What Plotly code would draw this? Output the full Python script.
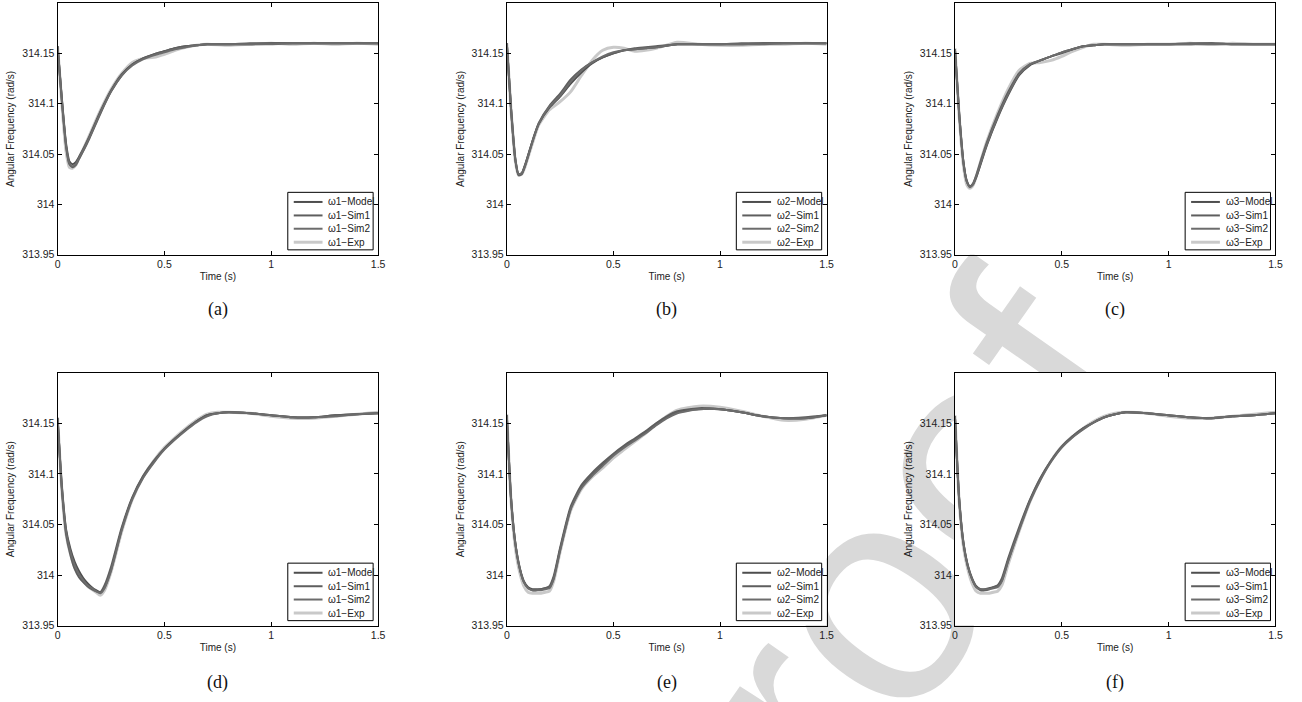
import plotly.graph_objects as go

W, H = 1302, 702

# ---- data -------------------------------------------------------------
time_top = [0, 0.02, 0.04, 0.055, 0.07, 0.085, 0.1, 0.125, 0.15, 0.2, 0.25, 0.3, 0.35, 0.4,
            0.45, 0.5, 0.55, 0.6, 0.65, 0.7, 0.8, 0.9, 1.0, 1.1, 1.2, 1.3, 1.4, 1.5]
time_bottom = [0, 0.02, 0.04, 0.06, 0.08, 0.1, 0.12, 0.14, 0.16, 0.18, 0.2, 0.22, 0.25, 0.3,
               0.35, 0.4, 0.45, 0.5, 0.55, 0.6, 0.65, 0.7, 0.75, 0.8, 0.9, 1.0, 1.1, 1.2,
               1.3, 1.4, 1.5]

series_names = ["Model", "Sim1", "Sim2", "Exp"]
panel_labels = ["(a)", "(b)", "(c)", "(d)", "(e)", "(f)"]
machine_ids = ["1", "2", "3", "1", "2", "3"]

y_tick_vals = [313.95, 314.0, 314.05, 314.1, 314.15]
y_tick_text = ["313.95", "314", "314.05", "314.1", "314.15"]
x_tick_vals = [0, 0.5, 1, 1.5]
x_tick_text = ["0", "0.5", "1", "1.5"]

# (a) omega1, first case
a_model = [314.157, 314.105, 314.060, 314.043, 314.040, 314.042, 314.047, 314.057, 314.068, 314.092,
           314.113, 314.129, 314.139, 314.145, 314.149, 314.152, 314.155, 314.157, 314.158, 314.159,
           314.159, 314.159, 314.160, 314.160, 314.160, 314.160, 314.160, 314.160]
a_sim1 = [314.157, 314.103, 314.057, 314.040, 314.037, 314.039, 314.045, 314.055, 314.066, 314.090,
          314.112, 314.128, 314.139, 314.145, 314.149, 314.152, 314.155, 314.157, 314.158, 314.159,
          314.159, 314.160, 314.160, 314.160, 314.160, 314.160, 314.160, 314.160]
a_sim2 = [314.157, 314.104, 314.058, 314.041, 314.038, 314.040, 314.046, 314.056, 314.067, 314.091,
          314.112, 314.128, 314.138, 314.144, 314.148, 314.151, 314.154, 314.156, 314.158, 314.159,
          314.159, 314.159, 314.159, 314.160, 314.160, 314.160, 314.160, 314.160]
a_exp = [314.157, 314.100, 314.052, 314.037, 314.036, 314.039, 314.046, 314.057, 314.069, 314.093,
         314.114, 314.130, 314.141, 314.145, 314.146, 314.149, 314.153, 314.156, 314.158, 314.159,
         314.158, 314.159, 314.160, 314.159, 314.160, 314.159, 314.160, 314.159]

# (b) omega2, first case
b_model = [314.160, 314.095, 314.045, 314.030, 314.031, 314.039, 314.049, 314.066, 314.080, 314.096,
           314.107, 314.120, 314.131, 314.140, 314.146, 314.150, 314.153, 314.154, 314.155, 314.156,
           314.159, 314.159, 314.159, 314.159, 314.160, 314.160, 314.160, 314.160]
b_sim1 = [314.160, 314.094, 314.044, 314.029, 314.030, 314.038, 314.048, 314.066, 314.081, 314.098,
          314.110, 314.124, 314.134, 314.141, 314.146, 314.150, 314.153, 314.155, 314.156, 314.157,
          314.159, 314.159, 314.159, 314.160, 314.160, 314.160, 314.160, 314.160]
b_sim2 = [314.160, 314.095, 314.045, 314.030, 314.031, 314.038, 314.048, 314.065, 314.080, 314.097,
          314.108, 314.122, 314.133, 314.141, 314.147, 314.151, 314.153, 314.154, 314.155, 314.156,
          314.159, 314.159, 314.159, 314.159, 314.159, 314.160, 314.160, 314.160]
b_exp = [314.160, 314.093, 314.043, 314.029, 314.030, 314.037, 314.047, 314.064, 314.079, 314.094,
         314.102, 314.112, 314.128, 314.143, 314.153, 314.156, 314.155, 314.152, 314.153, 314.155,
         314.161, 314.159, 314.158, 314.158, 314.159, 314.159, 314.160, 314.159]

# (c) omega3, first case
c_model = [314.154, 314.090, 314.042, 314.024, 314.018, 314.020, 314.027, 314.043, 314.059, 314.086,
           314.109, 314.128, 314.138, 314.143, 314.147, 314.151, 314.154, 314.157, 314.158, 314.159,
           314.159, 314.159, 314.159, 314.159, 314.160, 314.159, 314.159, 314.159]
c_sim1 = [314.154, 314.089, 314.041, 314.023, 314.018, 314.021, 314.029, 314.046, 314.062, 314.089,
          314.112, 314.130, 314.139, 314.143, 314.147, 314.150, 314.154, 314.157, 314.158, 314.159,
          314.159, 314.159, 314.159, 314.160, 314.160, 314.159, 314.159, 314.159]
c_sim2 = [314.154, 314.090, 314.041, 314.023, 314.017, 314.020, 314.028, 314.044, 314.060, 314.087,
          314.110, 314.129, 314.139, 314.143, 314.147, 314.151, 314.154, 314.157, 314.158, 314.159,
          314.159, 314.159, 314.159, 314.159, 314.159, 314.159, 314.159, 314.159]
c_exp = [314.155, 314.087, 314.038, 314.020, 314.016, 314.019, 314.028, 314.046, 314.063, 314.091,
         314.115, 314.133, 314.140, 314.141, 314.143, 314.147, 314.152, 314.156, 314.159, 314.159,
         314.158, 314.159, 314.159, 314.160, 314.159, 314.160, 314.159, 314.159]

# (d) omega1, second case
d_model = [314.155, 314.088, 314.045, 314.026, 314.013, 314.004, 313.997, 313.992, 313.988, 313.985,
           313.983, 313.988, 314.005, 314.045, 314.076, 314.097, 314.112, 314.125, 314.135, 314.144,
           314.152, 314.158, 314.160, 314.161, 314.160, 314.158, 314.156, 314.156, 314.158, 314.159,
           314.160]
d_sim1 = [314.155, 314.085, 314.040, 314.020, 314.006, 313.998, 313.993, 313.989, 313.986, 313.984,
          313.983, 313.990, 314.008, 314.047, 314.077, 314.098, 314.113, 314.125, 314.135, 314.144,
          314.152, 314.158, 314.160, 314.161, 314.160, 314.158, 314.156, 314.156, 314.158, 314.159,
          314.160]
d_sim2 = [314.155, 314.087, 314.043, 314.023, 314.010, 314.001, 313.995, 313.990, 313.987, 313.984,
          313.982, 313.987, 314.004, 314.044, 314.075, 314.096, 314.111, 314.124, 314.134, 314.143,
          314.151, 314.157, 314.160, 314.161, 314.160, 314.158, 314.156, 314.156, 314.157, 314.159,
          314.160]
d_exp = [314.156, 314.084, 314.040, 314.021, 314.008, 314.000, 313.994, 313.989, 313.986, 313.983,
         313.980, 313.985, 314.003, 314.043, 314.075, 314.097, 314.113, 314.126, 314.136, 314.145,
         314.153, 314.159, 314.161, 314.161, 314.160, 314.157, 314.155, 314.155, 314.157, 314.159,
         314.161]

# (e) omega2, second case
e_model = [314.158, 314.076, 314.032, 314.008, 313.994, 313.988, 313.986, 313.986, 313.986, 313.987,
           313.988, 313.997, 314.025, 314.066, 314.087, 314.099, 314.109, 314.119, 314.127, 314.134,
           314.141, 314.149, 314.156, 314.161, 314.164, 314.164, 314.161, 314.157, 314.155, 314.155,
           314.158]
e_sim1 = [314.158, 314.075, 314.031, 314.007, 313.993, 313.987, 313.985, 313.985, 313.986, 313.987,
          313.989, 313.999, 314.027, 314.068, 314.089, 314.101, 314.111, 314.120, 314.128, 314.135,
          314.142, 314.150, 314.157, 314.162, 314.165, 314.164, 314.161, 314.157, 314.155, 314.156,
          314.158]
e_sim2 = [314.158, 314.075, 314.031, 314.007, 313.993, 313.987, 313.985, 313.985, 313.985, 313.986,
          313.987, 313.996, 314.024, 314.065, 314.086, 314.098, 314.108, 314.118, 314.126, 314.133,
          314.140, 314.148, 314.155, 314.160, 314.164, 314.164, 314.161, 314.157, 314.155, 314.155,
          314.158]
e_exp = [314.159, 314.073, 314.027, 314.003, 313.989, 313.983, 313.982, 313.982, 313.982, 313.983,
         313.984, 313.994, 314.023, 314.064, 314.085, 314.097, 314.106, 314.116, 314.124, 314.132,
         314.140, 314.149, 314.157, 314.163, 314.167, 314.166, 314.162, 314.157, 314.153, 314.154,
         314.158]

# (f) omega3, second case
f_model = [314.157, 314.075, 314.032, 314.010, 313.997, 313.989, 313.986, 313.986, 313.987, 313.988,
           313.989, 313.995, 314.015, 314.045, 314.073, 314.095, 314.113, 314.127, 314.137, 314.145,
           314.151, 314.156, 314.159, 314.161, 314.160, 314.158, 314.156, 314.155, 314.157, 314.158,
           314.160]
f_sim1 = [314.157, 314.074, 314.031, 314.009, 313.996, 313.988, 313.985, 313.985, 313.986, 313.988,
          313.990, 313.997, 314.017, 314.047, 314.074, 314.096, 314.113, 314.127, 314.137, 314.145,
          314.151, 314.156, 314.159, 314.161, 314.160, 314.158, 314.156, 314.155, 314.157, 314.158,
          314.160]
f_sim2 = [314.157, 314.075, 314.031, 314.009, 313.996, 313.988, 313.986, 313.986, 313.986, 313.987,
          313.988, 313.994, 314.014, 314.044, 314.072, 314.094, 314.112, 314.126, 314.136, 314.144,
          314.151, 314.156, 314.159, 314.161, 314.160, 314.158, 314.156, 314.155, 314.157, 314.158,
          314.160]
f_exp = [314.158, 314.072, 314.028, 314.006, 313.992, 313.984, 313.982, 313.982, 313.982, 313.983,
         313.984, 313.990, 314.011, 314.043, 314.072, 314.095, 314.113, 314.127, 314.137, 314.145,
         314.152, 314.157, 314.160, 314.161, 314.160, 314.157, 314.155, 314.155, 314.157, 314.159,
         314.161]

panels = [
    (time_top, [a_model, a_sim1, a_sim2, a_exp]),
    (time_top, [b_model, b_sim1, b_sim2, b_exp]),
    (time_top, [c_model, c_sim1, c_sim2, c_exp]),
    (time_bottom, [d_model, d_sim1, d_sim2, d_exp]),
    (time_bottom, [e_model, e_sim1, e_sim2, e_exp]),
    (time_bottom, [f_model, f_sim1, f_sim2, f_exp]),
]

# ---- styling ----------------------------------------------------------
line_colors = ["#4e4e4e", "#5e5e5e", "#6c6c6c", "#c9c9c9"]
line_widths = [2.0, 2.0, 2.0, 3.0]
SANS = "Liberation Sans, Arial, Helvetica, sans-serif"
SERIF = "Liberation Serif, Times New Roman, serif"
TXT = "#222222"
TICK_SIZE = 10.5

# plot-area boxes in pixels: (left, right) per column, (top, bottom) per row
cols_px = [(55, 378), (507.7, 830), (959.3, 1282.3)]
rows_px = [(3, 257), (376, 631)]
Y_RANGE = [313.95, 314.2]
X_RANGE = [0, 1.5]


def fx(px):
    return px / W


def fy(py):
    return 1 - py / H


fig = go.Figure()
shapes = []
annotations = []

# light diagonal watermark, sitting underneath the plot areas
wm_cx, wm_cy = 833, 611
shapes.append(dict(
    type="rect", xref="paper", yref="paper", layer="below",
    x0=fx(wm_cx - 1), x1=fx(wm_cx + 1), y0=fy(wm_cy + 1), y1=fy(wm_cy - 1),
    line=dict(width=0), fillcolor="rgba(0,0,0,0)",
    label=dict(text="Proof", textangle=-55, textposition="middle center",
               font=dict(family=SANS, size=310, color="#d9d9d9")),
))

for i, (t, ys) in enumerate(panels):
    r, c = divmod(i, 3)
    left, right = cols_px[c]
    top, bottom = rows_px[r]
    sfx = "" if i == 0 else str(i + 1)
    xname, yname = "x" + sfx, "y" + sfx

    # draw lighter experimental trace first so the darker ones sit on top
    order = [3, 0, 1, 2]
    for k in order:
        fig.add_trace(go.Scatter(
            x=t, y=ys[k], mode="lines", xaxis=xname, yaxis=yname,
            name="\u03c9" + machine_ids[i] + "-" + series_names[k],
            line=dict(color=line_colors[k], width=line_widths[k], shape="spline", smoothing=0.6),
            showlegend=False, hoverinfo="skip",
        ))

    axis_common = dict(
        showline=True, linecolor="black", linewidth=1, mirror="allticks",
        ticks="inside", ticklen=4, tickcolor="black", tickwidth=1,
        showgrid=False, zeroline=False,
        tickfont=dict(family=SANS, size=TICK_SIZE, color=TXT),
    )
    fig.update_layout(**{
        "xaxis" + sfx: dict(
            domain=[fx(left), fx(right)], anchor=yname, range=X_RANGE,
            tickvals=x_tick_vals, ticktext=x_tick_text,
            title=dict(text="Time (s)", font=dict(family=SANS, size=10, color=TXT), standoff=3),
            **axis_common),
        "yaxis" + sfx: dict(
            domain=[fy(bottom), fy(top)], anchor=xname, range=Y_RANGE,
            tickvals=y_tick_vals, ticktext=y_tick_text,
            title=dict(text="Angular Frequency (rad/s)", font=dict(family=SANS, size=10, color=TXT), standoff=5),
            **axis_common),
    })

    # white plot area that hides the watermark behind the data
    shapes.append(dict(type="rect", xref=xname, yref=yname, layer="below",
                       x0=X_RANGE[0], x1=X_RANGE[1], y0=Y_RANGE[0], y1=Y_RANGE[1],
                       line=dict(width=0), fillcolor="white"))

    # legend box in the lower-right corner of each panel
    shapes.append(dict(type="rect", xref="paper", yref="paper", layer="above",
                       x0=fx(right - 91), x1=fx(right - 5), y0=fy(bottom - 5), y1=fy(bottom - 63),
                       line=dict(color="black", width=1), fillcolor="white"))
    row_offsets = [53.3, 39.7, 26.3, 12.7]
    for k in range(4):
        yy = bottom - row_offsets[k]
        shapes.append(dict(type="line", xref="paper", yref="paper", layer="above",
                           x0=fx(right - 85), x1=fx(right - 56), y0=fy(yy), y1=fy(yy),
                           line=dict(color=line_colors[k], width=line_widths[k])))
        annotations.append(dict(
            xref="paper", yref="paper", x=fx(right - 52), y=fy(yy),
            xanchor="left", yanchor="middle", showarrow=False,
            text="\u03c9" + machine_ids[i] + "\u2212" + series_names[k],
            font=dict(family=SANS, size=10, color=TXT),
        ))

    # panel caption
    cap_y = 312 if r == 0 else 688
    annotations.append(dict(
        xref="paper", yref="paper", x=fx((left + right) / 2), y=fy(cap_y),
        xanchor="center", yanchor="middle", showarrow=False,
        text=panel_labels[i], font=dict(family=SERIF, size=18, color="#111111"),
    ))

fig.update_layout(
    width=W, height=H, margin=dict(l=0, r=0, t=0, b=0),
    paper_bgcolor="white", plot_bgcolor="white",
    shapes=shapes, annotations=annotations, showlegend=False,
)

fig.write_html("out.html")
